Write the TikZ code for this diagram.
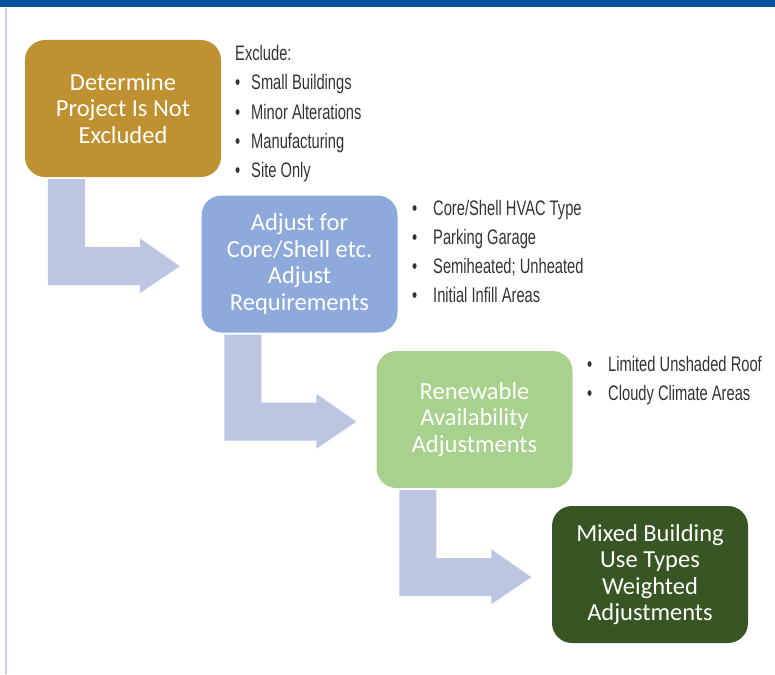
\documentclass[tikz,border=0pt]{standalone}
\usepackage{fontspec}
\setmainfont{Carlito}
\newfontfamily\condfont[FakeStretch=0.70]{Liberation Sans}
\usetikzlibrary{calc}
\definecolor{topbar}{HTML}{00529B}
\definecolor{edgeline}{HTML}{C5CCE6}
\definecolor{goldbox}{HTML}{BF9130}
\definecolor{bluebox}{HTML}{8EA9DB}
\definecolor{lightgreen}{HTML}{A9D18E}
\definecolor{darkgreen}{HTML}{375623}
\definecolor{arrowfill}{HTML}{BCC6E3}
\definecolor{listtext}{HTML}{333333}
\tikzset{
  stepbox/.style={rounded corners=20pt, minimum width=196pt, minimum height=137pt,
    inner sep=0pt, align=center, text=white,
    font={\fontsize{24.5}{26.5}\selectfont}},
  listline/.style={anchor=base west, inner sep=0pt, text=listtext,
    font={\condfont\fontsize{21}{29.5}\selectfont}},
  bentarrow/.style={fill=arrowfill, draw=none}
}
\newcommand{\bentarr}[1]{%
  \fill[bentarrow] ($(#1.south west)+(23,2)$) -- ($(#1.south west)+(60,2)$)
    -- ($(#1.south west)+(60,70)$) -- ($(#1.south west)+(115,70)$)
    -- ($(#1.south west)+(115,61)$) -- ($(#1.south west)+(155,89)$)
    -- ($(#1.south west)+(115,116)$) -- ($(#1.south west)+(115,108)$)
    -- ($(#1.south west)+(23,108)$) -- cycle;}
\newcommand{\bul}[1]{\makebox[#1][l]{\textbullet}}
\begin{document}
\begin{tikzpicture}[x=1pt,y=-1pt]
\useasboundingbox (0,0) rectangle (775,674);
\fill[topbar] (0,0) rectangle (775,7.5);
\fill[edgeline] (5,8) rectangle (6.5,674);

\node[stepbox, fill=goldbox] (b1) at (123,108.5) {Determine\\Project Is Not\\Excluded};
\node[stepbox, fill=bluebox] (b2) at (299.5,264) {Adjust for\\Core/Shell etc.\\Adjust\\Requirements};
\node[stepbox, fill=lightgreen] (b3) at (474.5,419.5) {Renewable\\Availability\\Adjustments};
\node[stepbox, fill=darkgreen] (b4) at (650,574.5) {Mixed Building\\Use Types\\Weighted\\Adjustments};

\bentarr{b1}
\bentarr{b2}
\bentarr{b3}

\node[listline] (l1a) at (235,61) {Exclude:};
\node[listline] (l1b) at (235,90) {\bul{16pt}Small Buildings};
\node[listline] (l1c) at (235,119) {\bul{16pt}Minor Alterations};
\node[listline] (l1d) at (235,148) {\bul{16pt}Manufacturing};
\node[listline] (l1e) at (235,177) {\bul{16pt}Site Only};

\node[listline] (l2a) at (412,215) {\bul{21pt}Core/Shell HVAC Type};
\node[listline] (l2b) at (412,244) {\bul{21pt}Parking Garage};
\node[listline] (l2c) at (412,273) {\bul{21pt}Semiheated; Unheated};
\node[listline] (l2d) at (412,302) {\bul{21pt}Initial Infill Areas};

\node[listline] (l3a) at (587,371) {\bul{21pt}Limited Unshaded Roof};
\node[listline] (l3b) at (587,400) {\bul{21pt}Cloudy Climate Areas};
\end{tikzpicture}
\end{document}
